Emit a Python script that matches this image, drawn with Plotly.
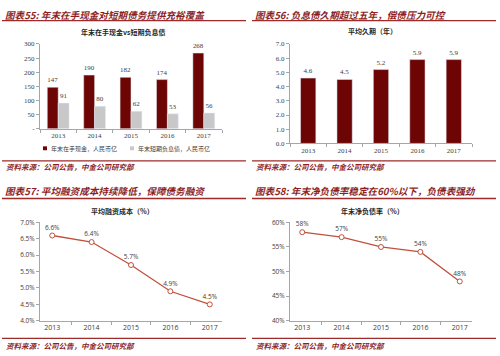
import plotly.graph_objects as go

years = ["2013", "2014", "2015", "2016", "2017"]
cash = [147, 190, 182, 174, 268]
short_debt = [91, 80, 62, 53, 56]
duration = [4.6, 4.5, 5.2, 5.9, 5.9]
fin_cost = [6.6, 6.4, 5.7, 4.9, 4.5]
net_gearing = [58, 57, 55, 54, 48]

titles = ["图表55: 年末在手现金对短期债务提供充裕覆盖",
          "图表56: 负息债久期超过五年，偿债压力可控",
          "图表57: 平均融资成本持续降低，保障债务融资",
          "图表58: 年末净负债率稳定在60%以下，负债表强劲"]
subtitles = ["年末在手现金vs短期负息债", "平均久期（年）", "平均融资成本（%）", "年末净负债率（%）"]
legend_names = ["年末在手现金，人民币亿", "年末短期负息债，人民币亿"]
source = "资料来源：公司公告，中金公司研究部"

W, H = 500, 356
MAROON = "#6E0505"
GRAY = "#C8C8C8"
LINE = "#C0503E"
TITLE_C = "#8E1F1F"
AX = "#A6A6A6"
TXT = "#404040"
CJK = "Noto Sans CJK SC"
SERIF = "Liberation Serif"


def px(x):
    return x / W


def py(y):
    return 1 - y / H


fig = go.Figure()

fig.add_trace(go.Bar(x=years, y=cash, name=legend_names[0], marker_color=MAROON,
                     text=[str(v) for v in cash], textposition="outside",
                     textfont=dict(size=7, color=TXT, family=SERIF), cliponaxis=False,
                     xaxis="x", yaxis="y", showlegend=False))
fig.add_trace(go.Bar(x=years, y=short_debt, name=legend_names[1], marker_color=GRAY,
                     text=[str(v) for v in short_debt], textposition="outside",
                     textfont=dict(size=7, color=TXT, family=SERIF), cliponaxis=False,
                     xaxis="x", yaxis="y", showlegend=False))
fig.add_trace(go.Bar(x=years, y=duration, name="平均久期", marker_color=MAROON, width=0.42,
                     text=[f"{v:.1f}" for v in duration], textposition="outside",
                     textfont=dict(size=7, color=TXT, family=SERIF), cliponaxis=False,
                     xaxis="x2", yaxis="y2", showlegend=False))
fig.add_trace(go.Scatter(x=years, y=fin_cost, mode="lines+markers+text",
                         line=dict(color=LINE, width=1.3),
                         marker=dict(size=5, color="white", line=dict(color=LINE, width=1)),
                         text=[f"{v:.1f}%" for v in fin_cost], textposition="top center",
                         textfont=dict(size=6.5, color=TXT, family="Open Sans"), cliponaxis=False,
                         xaxis="x3", yaxis="y3", showlegend=False))
fig.add_trace(go.Scatter(x=years, y=net_gearing, mode="lines+markers+text",
                         line=dict(color=LINE, width=1.3),
                         marker=dict(size=5, color="white", line=dict(color=LINE, width=1)),
                         text=[f"{v}%" for v in net_gearing], textposition="top center",
                         textfont=dict(size=6.5, color=TXT, family="Open Sans"), cliponaxis=False,
                         xaxis="x4", yaxis="y4", showlegend=False))

xcommon = dict(type="category", showline=True, linecolor=AX, linewidth=1, ticks="outside",
               tickson="boundaries", ticklen=3, tickcolor=AX, showgrid=False, zeroline=False,
               tickfont=dict(size=7, color=TXT, family=SERIF), fixedrange=True)
ycommon = dict(showline=True, linecolor=AX, linewidth=1, ticks="outside", ticklen=3, tickcolor=AX,
               showgrid=False, zeroline=False, tickfont=dict(size=7, color=TXT, family=SERIF),
               fixedrange=True)
sans_tick = dict(size=6.5, color=TXT, family="Open Sans")

left_dom = [px(40), px(222)]
right_dom = [px(290), px(472)]

fig.update_layout(
    width=W, height=H, margin=dict(l=0, r=0, t=0, b=0),
    paper_bgcolor="white", plot_bgcolor="white",
    barmode="group", bargap=0.4, bargroupgap=0,
    xaxis=dict(domain=left_dom, anchor="y", **xcommon),
    yaxis=dict(domain=[py(127), py(40)], anchor="x", range=[0, 300],
               tickvals=[0, 50, 100, 150, 200, 250, 300],
               ticktext=["-", "50", "100", "150", "200", "250", "300"], **ycommon),
    xaxis2=dict(domain=right_dom, anchor="y2", **xcommon),
    yaxis2=dict(domain=[py(142), py(40)], anchor="x2", range=[0, 7], dtick=1,
                tickformat=".1f", **ycommon),
    xaxis3=dict(domain=left_dom, anchor="y3", **{**xcommon, "tickfont": dict(sans_tick, size=7)}),
    yaxis3=dict(domain=[py(324), py(223)], anchor="x3", range=[4, 7], dtick=0.5,
                tickformat=".1f", ticksuffix="%", **{**ycommon, "tickfont": sans_tick}),
    xaxis4=dict(domain=right_dom, anchor="y4", **{**xcommon, "tickfont": dict(sans_tick, size=7)}),
    yaxis4=dict(domain=[py(324), py(223)], anchor="x4", range=[40, 60], dtick=5,
                ticksuffix="%", **{**ycommon, "tickfont": sans_tick}),
)

shapes = []
annotations = []
panels = [(0, 0), (250, 0), (0, 182), (250, 182)]
sub_cx = [123, 372, 122, 372]
sub_y = [28, 27, 211, 211]
for i, (ox, oy) in enumerate(panels):
    title_y = 10 if oy == 0 else 191
    top_line = 16 if oy == 0 else 198.5
    bot_line = 160 if oy == 0 else 342
    src_y = 166 if oy == 0 else 349
    annotations.append(dict(x=px(ox + 3), y=py(title_y), xref="paper", yref="paper",
                            text=f"<b><i>{titles[i]}</i></b>", showarrow=False,
                            xanchor="left", yanchor="middle",
                            font=dict(size=9.6, color=TITLE_C, family=CJK)))
    annotations.append(dict(x=px(sub_cx[i]), y=py(sub_y[i]), xref="paper", yref="paper",
                            text=f"<b>{subtitles[i]}</b>", showarrow=False,
                            xanchor="center", yanchor="middle",
                            font=dict(size=7, color="#262626", family=CJK)))
    annotations.append(dict(x=px(ox + 4), y=py(src_y), xref="paper", yref="paper",
                            text=f"<b><i>{source}</i></b>", showarrow=False,
                            xanchor="left", yanchor="middle",
                            font=dict(size=7.5, color=TITLE_C, family=CJK)))
    for ly in (top_line, bot_line):
        shapes.append(dict(type="line", xref="paper", yref="paper",
                           x0=px(ox + 2), x1=px(ox + 246), y0=py(ly), y1=py(ly),
                           line=dict(color="#9E2A2A", width=1.3)))

# legend for panel 55
leg = [(43, MAROON, legend_names[0]), (130, GRAY, legend_names[1])]
for lx, col, name in leg:
    shapes.append(dict(type="rect", xref="paper", yref="paper",
                       x0=px(lx), x1=px(lx + 4), y0=py(149), y1=py(145),
                       fillcolor=col, line=dict(width=0)))
    annotations.append(dict(x=px(lx + 6), y=py(147), xref="paper", yref="paper",
                            text=name, showarrow=False, xanchor="left", yanchor="middle",
                            font=dict(size=6, color=TXT, family=CJK)))

fig.update_layout(shapes=shapes, annotations=annotations)
fig.write_html("out.html", config={"displayModeBar": False},
               post_script="document.body.style.margin='0';document.body.style.padding='0';")
